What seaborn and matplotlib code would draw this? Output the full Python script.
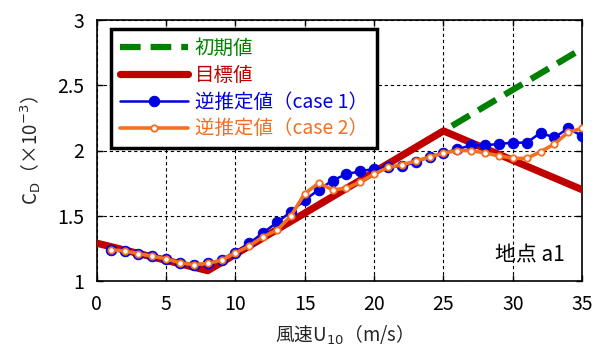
import numpy as np
import pandas as pd
import seaborn as sns
import matplotlib
matplotlib.use("Agg")
import matplotlib.pyplot as plt

# wind speed U10 (m/s)
u_knots = [0, 8, 25, 35]
cd_initial = [1.29, 1.08, 2.15, 2.78]   # 初期値
cd_target = [1.29, 1.08, 2.15, 1.70]    # 目標値

u_est = list(range(1, 36))
cd_case1 = [1.24, 1.23, 1.21, 1.19, 1.17, 1.14, 1.125, 1.135, 1.16, 1.215,
            1.29, 1.37, 1.45, 1.53, 1.62, 1.70, 1.77, 1.82, 1.84, 1.86,
            1.87, 1.88, 1.91, 1.95, 1.98, 2.01, 2.04, 2.04, 2.05, 2.06,
            2.06, 2.135, 2.10, 2.17, 2.11]
cd_case2 = [1.24, 1.23, 1.21, 1.19, 1.17, 1.14, 1.125, 1.135, 1.16, 1.215,
            1.27, 1.34, 1.39, 1.50, 1.67, 1.75, 1.70, 1.71, 1.76, 1.82,
            1.87, 1.89, 1.92, 1.95, 1.98, 2.00, 2.00, 1.98, 1.96, 1.94,
            1.94, 1.99, 2.05, 2.14, 2.17]

labels = ["初期値", "目標値", "逆推定値（case 1）", "逆推定値（case 2）"]
colors = ["#008000", "#c00000", "#0000e0", "#f36f21"]

sns.set_theme(style="ticks")
plt.rcParams["font.family"] = ["Noto Sans CJK JP", "DejaVu Sans"]
plt.rcParams["mathtext.fontset"] = "dejavusans"

fig = plt.figure(figsize=(5.94, 3.5), dpi=100)
ax = fig.add_axes([0.163, 0.197, 0.817, 0.746])

sns.lineplot(x=u_knots, y=cd_initial, ax=ax, color=colors[0], lw=4.5,
             dashes=False, label=labels[0], zorder=2)
ax.lines[-1].set_dashes((3.3, 1.6))
sns.lineplot(x=u_knots, y=cd_target, ax=ax, color=colors[1], lw=5.2,
             label=labels[1], zorder=3)
sns.lineplot(x=u_est, y=cd_case1, ax=ax, color=colors[2], lw=1.8,
             marker="o", markersize=7.5, markeredgecolor=colors[2],
             label=labels[2], zorder=4)
sns.lineplot(x=u_est, y=cd_case2, ax=ax, color=colors[3], lw=2.6,
             marker="o", markersize=4.6, markerfacecolor="white",
             markeredgecolor=colors[3], markeredgewidth=1.3,
             label=labels[3], zorder=5)

ax.set_xlim(0, 35)
ax.set_ylim(1, 3)
ax.set_xticks(np.arange(0, 36, 5))
ax.set_yticks([1, 1.5, 2, 2.5, 3])
ax.set_yticklabels(["1", "1.5", "2", "2.5", "3"])
ax.grid(True, color="black", linestyle=(0, (3, 2.5)), linewidth=0.8)
ax.tick_params(direction="in", top=True, right=True, labelsize=14,
               length=4, width=1, colors="black", pad=9)
for sp in ax.spines.values():
    sp.set_color("black")
    sp.set_linewidth(1.2)

ax.set_ylabel(r"C$_\mathrm{D}$（×10$^{-3}$）", fontsize=13.5, labelpad=10)
ax.set_xlabel(r"風速U$_{10}$（m/s）", fontsize=13.5, labelpad=6)

ax.text(0.965, 0.1, "地点 a1", transform=ax.transAxes, ha="right",
        va="center", fontsize=15, color="black")

leg = ax.legend(loc="upper left", bbox_to_anchor=(0.03, 0.965),
                fancybox=False, framealpha=1, edgecolor="black",
                fontsize=14, handlelength=3.5, handletextpad=0.35,
                labelspacing=0.3, borderpad=0.45, borderaxespad=0)
leg.get_frame().set_linewidth(2.5)
for txt, c in zip(leg.get_texts(), colors):
    txt.set_color(c)

fig.savefig("out.png", dpi=100)
